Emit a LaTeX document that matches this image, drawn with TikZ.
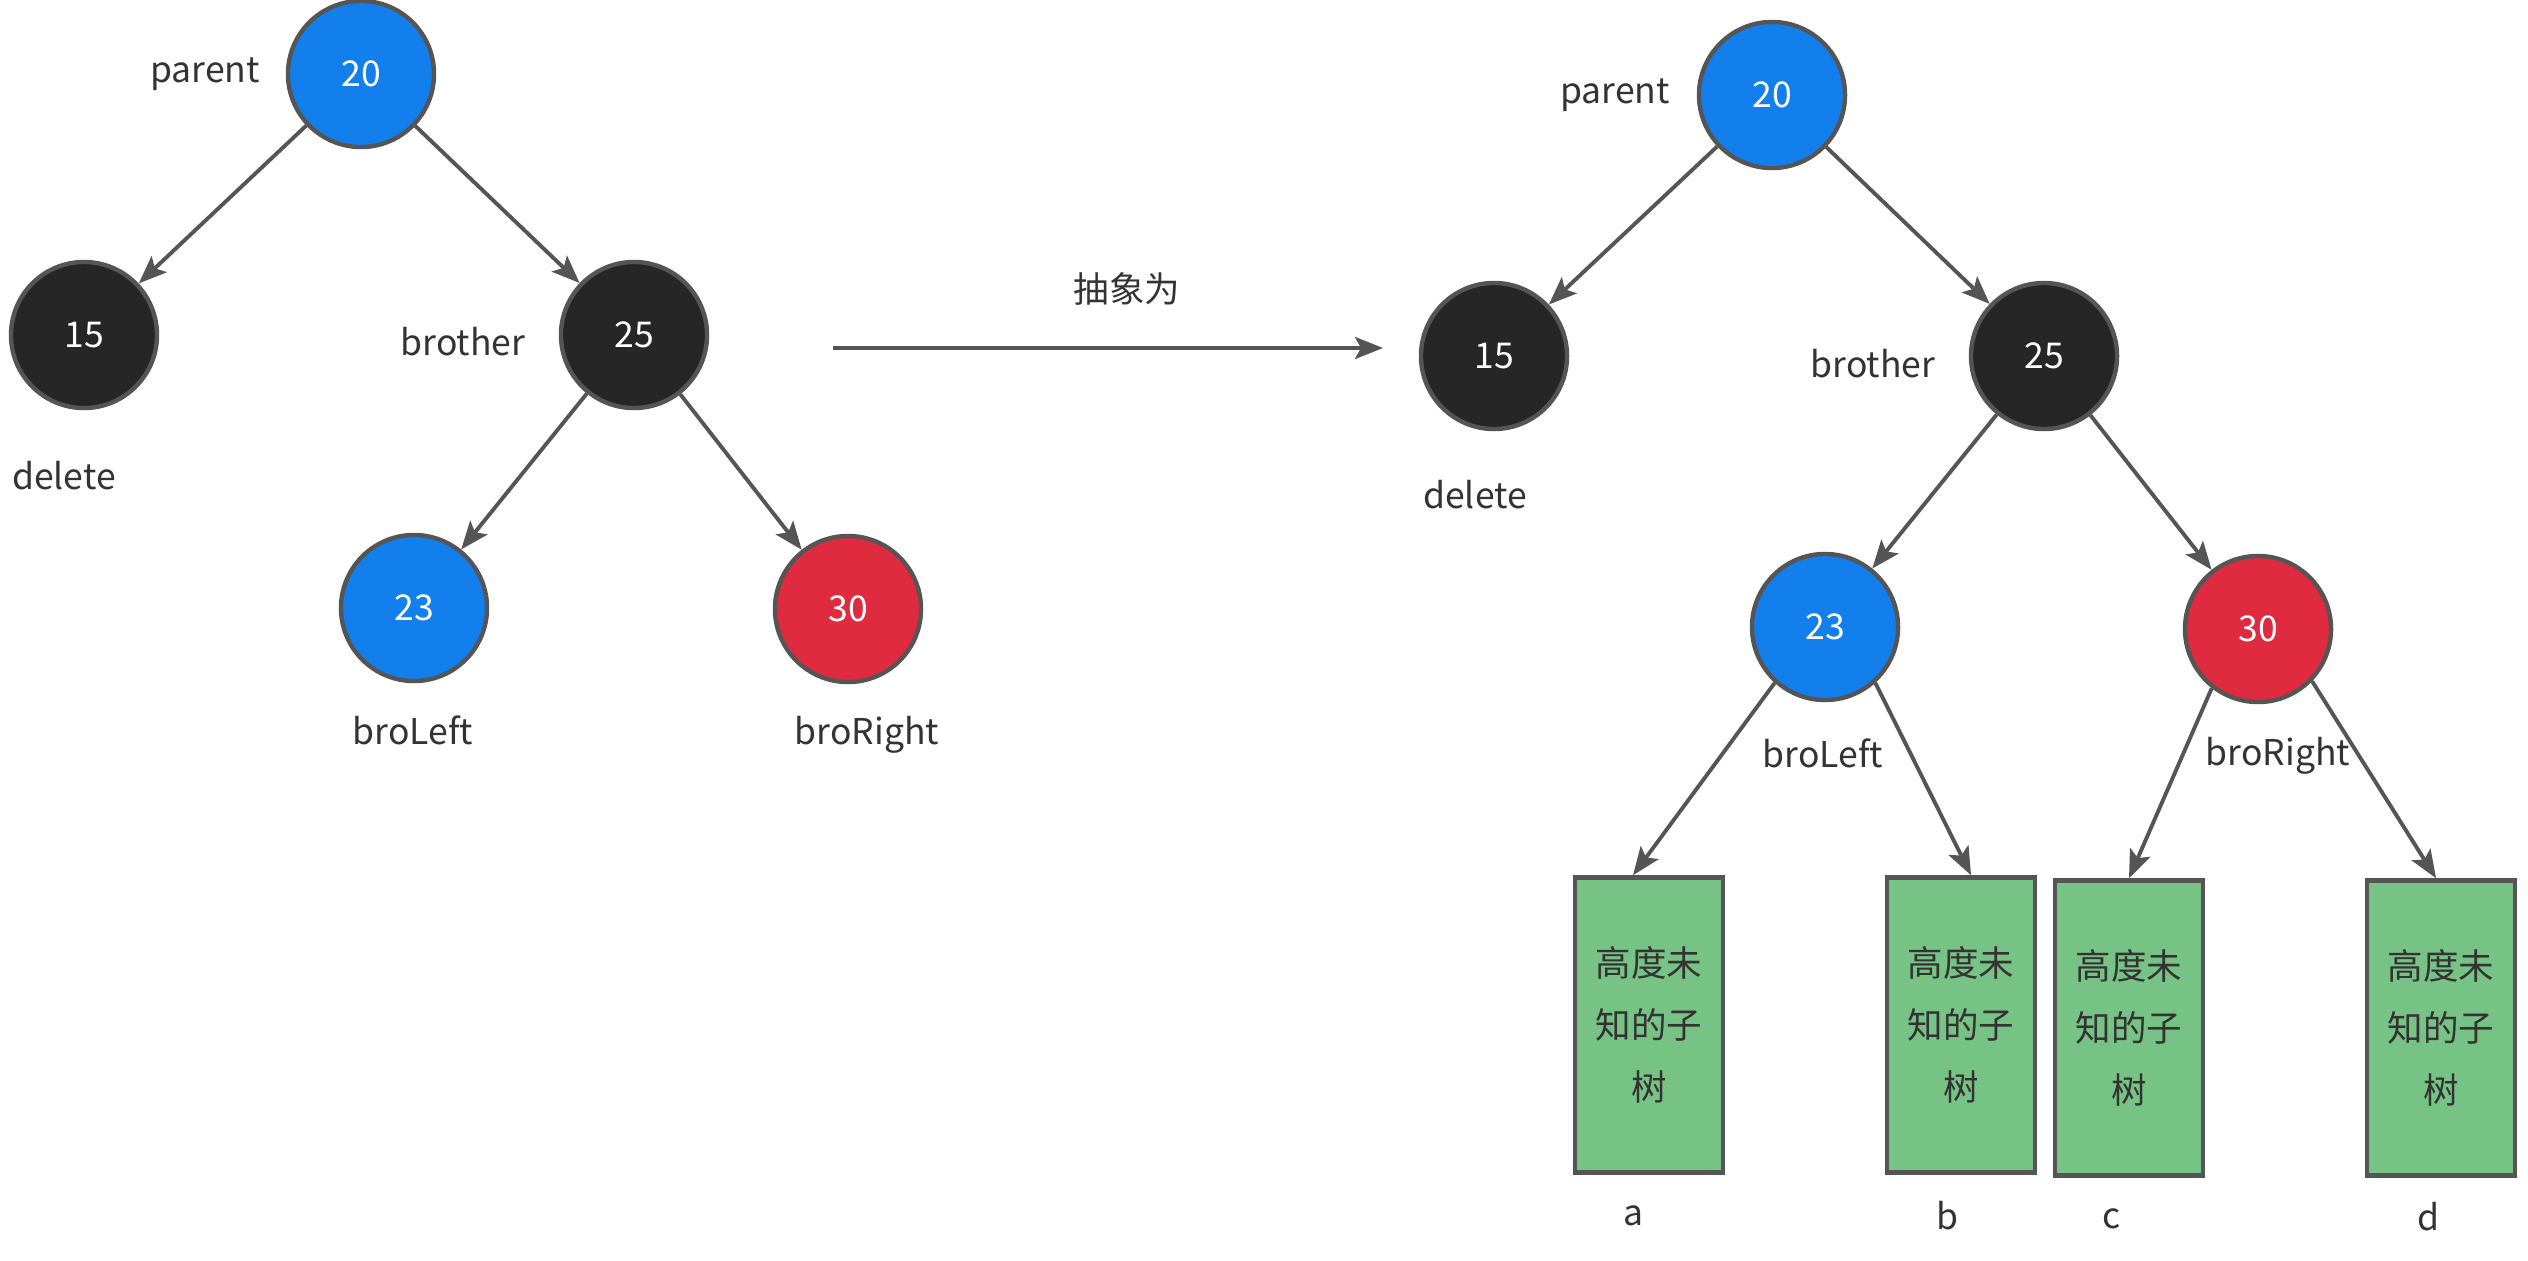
\documentclass[tikz,border=0pt]{standalone}
\usepackage{fontspec}
\setmainfont{Noto Sans CJK SC}
\usetikzlibrary{positioning,arrows.meta}
\definecolor{nodeblue}{HTML}{137FEC}
\definecolor{nodeblack}{HTML}{262626}
\definecolor{nodered}{HTML}{E02A3F}
\definecolor{subgreen}{HTML}{77C285}
\definecolor{linegray}{HTML}{555555}
\definecolor{textgray}{HTML}{333333}

\begin{document}
\begin{tikzpicture}[x=0.01cm,y=-0.01cm,
    font=\fontsize{10.1}{17.6}\selectfont,
    rbnode/.style={circle,draw=linegray,line width=1.25pt,minimum size=1.46cm,
      inner sep=0pt,text=white},
    bluenode/.style={rbnode,fill=nodeblue},
    blacknode/.style={rbnode,fill=nodeblack},
    rednode/.style={rbnode,fill=nodered},
    subtree/.style={rectangle,draw=linegray,line width=1.25pt,fill=subgreen,
      minimum width=1.48cm,minimum height=2.95cm,text width=1.3cm,align=center,
      inner sep=0pt,text=textgray},
    lbl/.style={text=textgray,inner sep=0pt},
    edge/.style={draw=linegray,line width=1.1pt,
      -{Stealth[length=0.28cm,width=0.22cm,inset=0.06cm]}}]
  \useasboundingbox (0,0) rectangle (2528,1260);

  % left tree
  \node[bluenode]  (l20) at (361,74)  {20};
  \node[blacknode] (l15) at (84,335)  {15};
  \node[blacknode] (l25) at (634,335) {25};
  \node[bluenode]  (l23) at (414,608) {23};
  \node[rednode]   (l30) at (848,609) {30};
  \node[lbl] (lparent)   at (205,74)  {parent};
  \node[lbl] (lbrother)  at (463,342) {brother};
  \node[lbl] (ldelete)   at (64,476)  {delete};
  \node[lbl] (lbroleft)  at (413,730) {broLeft};
  \node[lbl] (lbroright) at (867,735) {broRight};
  \draw[edge] (l20) -- (l15);
  \draw[edge] (l20) -- (l25);
  \draw[edge] (l25) -- (l23);
  \draw[edge] (l25) -- (l30);

  % abstraction arrow
  \coordinate (absfrom) at (833,348);
  \coordinate (absto) at (1383,348);
  \draw[edge] (absfrom) -- (absto);
  \node[lbl] (abslabel) at (1127,289) {抽象为};

  % right tree
  \node[bluenode]  (r20) at (1772,95)  {20};
  \node[blacknode] (r15) at (1494,356) {15};
  \node[blacknode] (r25) at (2044,356) {25};
  \node[bluenode]  (r23) at (1825,627) {23};
  \node[rednode]   (r30) at (2258,629) {30};
  \node[lbl] (rparent)   at (1615,95)  {parent};
  \node[lbl] (rbrother)  at (1873,364) {brother};
  \node[lbl] (rdelete)   at (1475,495) {delete};
  \node[lbl] (rbroleft)  at (1823,753) {broLeft};
  \node[lbl] (rbroright) at (2278,756) {broRight};
  \draw[edge] (r20) -- (r15);
  \draw[edge] (r20) -- (r25);
  \draw[edge] (r25) -- (r23);
  \draw[edge] (r25) -- (r30);

  % subtrees of unknown height
  \node[subtree] (ta) at (1649,1025) {高度未\\知的子\\树};
  \node[subtree] (tb) at (1961,1025) {高度未\\知的子\\树};
  \node[subtree] (tc) at (2129,1028) {高度未\\知的子\\树};
  \node[subtree] (td) at (2441,1028) {高度未\\知的子\\树};
  \node[lbl] (la) at (1633,1216) {a};
  \node[lbl] (lb) at (1947,1216) {b};
  \node[lbl] (lc) at (2112,1219) {c};
  \node[lbl] (ld) at (2428,1217) {d};
  \draw[edge] (r23.228) -- ([xshift=-0.16cm]ta.north);
  \draw[edge] (r23.312) -- ([xshift=0.1cm]tb.north);
  \draw[edge] (r30.232) -- (tc.north);
  \draw[edge] (r30.316) -- ([xshift=-0.05cm]td.north);
\end{tikzpicture}
\end{document}
